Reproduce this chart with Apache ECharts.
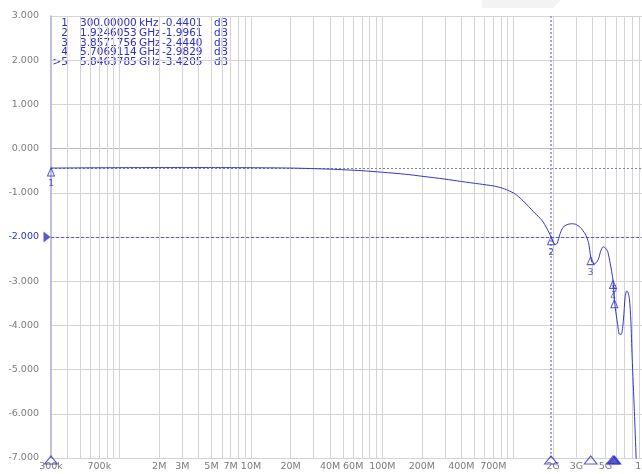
<!DOCTYPE html>
<html><head><meta charset="utf-8">
<script src="https://cdn.jsdelivr.net/npm/echarts@6/dist/echarts.min.js"></script>
<style>html,body{margin:0;padding:0;background:#fff}#c{width:642px;height:474px}</style>
</head><body><div id="c"></div>
<script>
// trace (frequency in Hz, level in dB)
const traceFreq = [3e5, 5e5, 1e6, 2e6, 3e6, 5e6, 1e7, 2e7, 4e7, 7e7, 1e8, 1.5e8, 2e8, 3e8, 4e8, 5.5e8, 7e8, 8e8, 9e8, 1.03e9, 1.15e9, 1.3e9, 1.45e9, 1.64e9, 1.8e9, 1.9246053e9, 2.0e9, 2.07e9, 2.14e9, 2.26e9, 2.38e9, 2.55e9, 2.75e9, 2.95e9, 3.21e9, 3.5e9, 3.71e9, 3.8571756e9, 3.95e9, 4.1e9, 4.25e9, 4.42e9, 4.6e9, 4.8e9, 5.0e9, 5.2e9, 5.43e9, 5.7069114e9, 5.8463785e9, 5.95e9, 6.17e9, 6.39e9, 6.6e9, 6.85e9, 7.06e9, 7.25e9, 7.4e9, 7.61e9, 7.8e9, 7.98e9, 8.3e9, 8.56e9, 8.8e9];
const traceDb = [-0.44, -0.436, -0.432, -0.43, -0.43, -0.43, -0.433, -0.44, -0.465, -0.5, -0.535, -0.58, -0.625, -0.69, -0.745, -0.8, -0.845, -0.885, -0.94, -1.03, -1.15, -1.31, -1.46, -1.62, -1.82, -1.9961, -2.12, -2.17, -2.15, -1.92, -1.78, -1.72, -1.7, -1.71, -1.78, -1.93, -2.12, -2.444, -2.57, -2.61, -2.58, -2.5, -2.32, -2.22, -2.25, -2.33, -2.59, -2.9829, -3.4205, -3.62, -3.95, -4.2, -4.2, -3.88, -3.35, -3.22, -3.24, -3.4, -3.88, -4.71, -5.95, -7.0, -8.0];

// markers
const mkNum = ['1', '2', '3', '4', '>5'];
const mkFreqText = ['300.00000', '1.9246053', '3.8571756', '5.7069114', '5.8463785'];
const mkUnit = ['kHz', 'GHz', 'GHz', 'GHz', 'GHz'];
const mkFreqHz = [3e5, 1.9246053e9, 3.8571756e9, 5.7069114e9, 5.8463785e9];
const mkVal = [-0.4401, -1.9961, -2.4440, -2.9829, -3.4205];
const activeMarker = 4;

// axes
const xTickFreq = [3e5, 7e5, 2e6, 3e6, 5e6, 7e6, 1e7, 2e7, 4e7, 6e7, 1e8, 2e8, 4e8, 7e8, 2e9, 3e9, 5e9, 1e10];
const xTickText = ['300k', '700k', '2M', '3M', '5M', '7M', '10M', '20M', '40M', '60M', '100M', '200M', '400M', '700M', '2G', '3G', '5G', '10G'];
const gridMantissa = [1, 2, 3, 4, 5, 6, 7, 8, 9];
const gridDecades = [1e5, 1e6, 1e7, 1e8, 1e9];
const yMin = -7, yMax = 3, yStep = 1;
const refLevel = -2;
const displayLine = -0.4401;
const vLineFreq = 1.9246053e9;

const BLUE = '#2e2ec8';
const gridFreq = [];
gridDecades.forEach(d => gridMantissa.forEach(m => { const f = m * d; if (f > 3e5 && f < 1e10) gridFreq.push(f); }));

function tickText(v) {
  for (let i = 0; i < xTickFreq.length; i++) {
    if (Math.abs(v - xTickFreq[i]) / xTickFreq[i] < 1e-3) return xTickText[i];
  }
  return '';
}

const rowY = i => 23.5 + 9.75 * i;
const tableFont = '10.5px "DejaVu Sans"';
const table = [];
mkNum.forEach((n, i) => {
  table.push({type: 'text', x: 68, y: rowY(i), style: {text: n, font: tableFont, fill: BLUE, align: 'right', verticalAlign: 'middle'}});
  table.push({type: 'text', x: 80, y: rowY(i), style: {text: mkFreqText[i], font: tableFont, fill: BLUE, verticalAlign: 'middle'}});
  table.push({type: 'text', x: 139, y: rowY(i), style: {text: mkUnit[i], font: tableFont, fill: BLUE, verticalAlign: 'middle'}});
  table.push({type: 'text', x: 162, y: rowY(i), style: {text: mkVal[i].toFixed(4), font: tableFont, fill: BLUE, verticalAlign: 'middle'}});
  table.push({type: 'text', x: 214, y: rowY(i), style: {text: 'dB', font: tableFont, fill: BLUE, verticalAlign: 'middle'}});
});

const chart = echarts.init(document.getElementById('c'), null, {renderer: 'canvas'});
chart.setOption({
  animation: false,
  backgroundColor: '#ffffff',
  grid: {left: 51, right: -3, top: 16, bottom: 16, containLabel: false, outerBoundsMode: 'none'},
  xAxis: {
    type: 'log', logBase: 10, min: 3e5, max: 1e10,
    axisLine: {show: true, lineStyle: {color: '#bcbcbc', width: 1}},
    axisTick: {show: false},
    splitLine: {show: false},
    axisLabel: {customValues: xTickFreq, formatter: tickText, fontSize: 9.5, fontFamily: 'DejaVu Sans', color: '#7a7a7a', margin: 4, hideOverlap: false, showMinLabel: true, showMaxLabel: true}
  },
  yAxis: {
    type: 'value', min: yMin, max: yMax, interval: yStep,
    axisLine: {show: true, lineStyle: {color: '#aaaad6', width: 1.5}},
    axisTick: {show: false},
    splitLine: {show: true, lineStyle: {color: '#d4d4d4', width: 1}},
    axisLabel: {
      formatter: v => v.toFixed(3), fontSize: 9.5, fontFamily: 'DejaVu Sans', margin: 12,
      color: v => (Math.abs(v - refLevel) < 1e-9 ? BLUE : '#7c7c7c')
    }
  },
  series: [
    {
      type: 'line', data: [], silent: true, z: 1,
      markLine: {silent: true, symbol: 'none', animation: false, label: {show: false},
        lineStyle: {color: '#d4d4d4', type: 'solid', width: 1},
        data: gridFreq.map(f => ({xAxis: f}))}
    },
    {
      type: 'line', data: [], silent: true, z: 2,
      markLine: {silent: true, symbol: 'none', animation: false, label: {show: false},
        data: [
          {yAxis: displayLine, lineStyle: {color: '#7878d8', type: [2, 2], width: 1}},
          {yAxis: refLevel, lineStyle: {color: '#5a5ad2', type: [3, 2], width: 1}},
          {xAxis: vLineFreq, lineStyle: {color: '#a4a4e0', type: [2, 2], width: 2}}
        ]}
    },
    {
      type: 'line', z: 5, clip: true, showSymbol: false, smooth: 0.25,
      data: traceFreq.map((f, i) => [f, traceDb[i]]),
      lineStyle: {color: '#3434cc', width: 1}
    },
    {
      type: 'scatter', z: 6, clip: false,
      data: mkFreqHz.map((f, i) => ({
        value: [f, mkVal[i]], name: mkNum[i].replace('>', ''),
        label: {position: i === activeMarker ? 'top' : 'bottom', distance: i === activeMarker ? 8 : 0}
      })),
      symbol: 'triangle', symbolSize: [7, 8], symbolOffset: [0, 4],
      itemStyle: {color: 'rgba(255,255,255,0)', borderColor: BLUE, borderWidth: 1},
      label: {show: true, formatter: p => p.name, color: BLUE, fontSize: 9, fontFamily: 'DejaVu Sans', offset: [0, 3]}
    },
    {
      type: 'scatter', z: 7, clip: false,
      data: mkFreqHz.map((f, i) => ({
        value: [f, yMin],
        itemStyle: i === activeMarker ? {color: BLUE, borderColor: BLUE} : {color: 'rgba(255,255,255,0)', borderColor: BLUE, borderWidth: 1}
      })),
      symbol: 'triangle', symbolSize: [13, 8], symbolOffset: [0, 2]
    },
    {
      type: 'scatter', z: 7, clip: false,
      data: [[3e5, refLevel]],
      symbol: 'triangle', symbolSize: [11, 7], symbolRotate: -90, symbolOffset: [-4, 0],
      itemStyle: {color: BLUE}
    }
  ],
  graphic: [
    {type: 'polygon', z: -1, shape: {points: [[482, 0], [561, 0], [553, 8], [482, 8]]}, style: {fill: '#f3f3f3'}},
    {type: 'group', children: table}
  ]
});
</script>
</body></html>
